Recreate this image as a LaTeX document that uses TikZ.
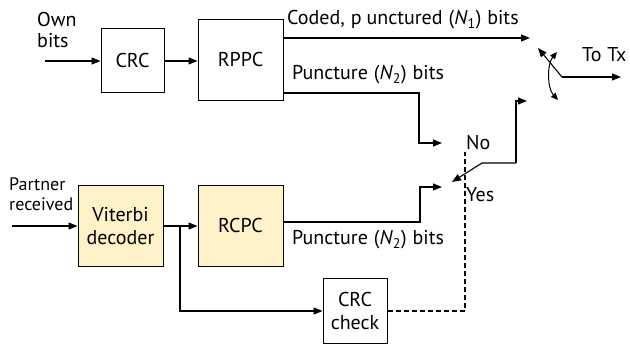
\documentclass[tikz,border=0pt]{standalone}
\usepackage{fontspec}
\setmainfont{PT Sans}
\usetikzlibrary{arrows.meta}
\definecolor{boxyellow}{RGB}{253,242,200}
\tikzset{
  blk/.style={draw=black, line width=1pt, inner sep=0pt, align=center, font=\fontsize{20}{23}\selectfont},
  conn/.style={line width=1.1pt, -{Triangle[length=9pt,width=7pt]}},
  plain/.style={line width=1.1pt},
  lbl/.style={font=\fontsize{20}{21}\selectfont, inner sep=0pt, align=left},
}
\begin{document}
\begin{tikzpicture}[x=1pt,y=-1pt]
\useasboundingbox (0,0) rectangle (630,347);
% boxes
\node[blk, minimum width=63pt, minimum height=64pt] (crc) at (132.5,61) {CRC};
\node[blk, minimum width=85pt, minimum height=81pt] (rppc) at (240.5,60) {RPPC};
\node[blk, fill=boxyellow, minimum width=85pt, minimum height=81pt] (vit) at (120.5,226) {Viterbi\\decoder};
\node[blk, fill=boxyellow, minimum width=85pt, minimum height=81pt] (rcpc) at (240.5,226) {RCPC};
\node[blk, minimum width=64pt, minimum height=65pt] (chk) at (355,311) {CRC\\check};
% labels
\node[lbl, anchor=west] (own) at (37,30) {Own\\bits};
\node[lbl, anchor=west, font=\fontsize{18}{20}\selectfont] (partner) at (9,194) {Partner\\received};
\node[lbl, anchor=west] (coded) at (287,20) {Coded,\hspace{6pt}p\hspace{5pt}unctured\hspace{6pt}(\textit{N}\textsubscript{1})\hspace{6pt}bits};
\node[lbl, anchor=west] (punc1) at (292,75) {Puncture\hspace{6pt}(\textit{N}\textsubscript{2})\hspace{6pt}bits};
\node[lbl, anchor=west] (punc2) at (292,240) {Puncture\hspace{6pt}(\textit{N}\textsubscript{2})\hspace{6pt}bits};
\node[lbl, anchor=west] (no) at (466,143) {No};
\node[lbl, anchor=west] (yes) at (466,195) {Yes};
\node[lbl, anchor=west] (totx) at (582,55) {To\hspace{6pt}Tx};
% coordinates
\coordinate (ownin) at (45,61);
\coordinate (parin) at (12,226);
\coordinate (codedend) at (530,38);
\coordinate (p1a) at (419,93);
\coordinate (p1b) at (419,143);
\coordinate (p1end) at (442,143);
\coordinate (p2a) at (420,222);
\coordinate (p2b) at (420,187);
\coordinate (p2end) at (442,187);
\coordinate (br) at (180,226);
\coordinate (brd) at (180,311);
\coordinate (dsh1) at (465,311);
\coordinate (dsh2) at (465,152);
\coordinate (sw1) at (516,101);
\coordinate (sw1end) at (527,101);
\coordinate (sw2) at (516,163);
\coordinate (sw3) at (482,163);
\coordinate (sw2end) at (452,182);
\coordinate (piv) at (562,77);
\coordinate (lever) at (538,48);
\coordinate (out) at (621,77);
\coordinate (arcT) at (557,52);
\coordinate (arcB) at (558,100);
% connectors
\draw[conn] (ownin) -- (crc.west);
\draw[conn] (crc.east) -- (rppc.west |- crc.east);
\draw[conn] (rppc.east |- codedend) -- (codedend);
\draw[conn] (rppc.east |- p1a) -- (p1a) -- (p1b) -- (p1end);
\draw[conn] (parin) -- (vit.west);
\draw[conn] (vit.east) -- (rcpc.west);
\draw[conn] (br) -- (brd) -- (chk.west |- brd);
\draw[conn] (rcpc.east |- p2a) -- (p2a) -- (p2b) -- (p2end);
\draw[plain, dashed, dash pattern=on 5pt off 3pt] (chk.east |- dsh1) -- (dsh1) -- (dsh2);
\draw[conn] (sw2) -- (sw1) -- (sw1end);
\draw[conn] (sw2) -- (sw3) -- (sw2end);
\draw[conn] (piv) -- (lever);
\draw[conn] (piv) -- (out);
\draw[line width=1pt, {Triangle[length=7pt,width=6pt]}-{Triangle[length=7pt,width=6pt]}] (arcT) .. controls (547,64) and (547,88) .. (arcB);
\end{tikzpicture}
\end{document}
